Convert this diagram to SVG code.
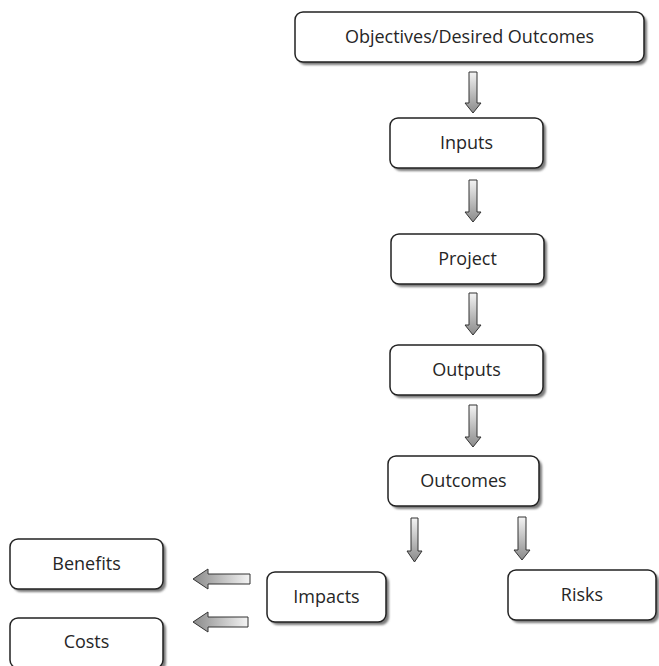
<svg xmlns="http://www.w3.org/2000/svg" width="659" height="666" viewBox="0 0 659 666">
<defs>
<filter id="blur" x="-10%" y="-10%" width="130%" height="140%"><feGaussianBlur stdDeviation="0.8"/></filter>
<linearGradient id="gv" x1="0" y1="0" x2="0" y2="1"><stop offset="0" stop-color="#f4f4f4"/><stop offset="1" stop-color="#8a8a8a"/></linearGradient>
<linearGradient id="gh" x1="1" y1="0" x2="0" y2="0"><stop offset="0" stop-color="#f4f4f4"/><stop offset="1" stop-color="#8a8a8a"/></linearGradient>
</defs>
<style>
.box{fill:#fff;stroke:#222;stroke-width:1.5}
.sh{fill:#7a7a7a;filter:url(#blur)}
.lbl{font-family:"Open Sans","Noto Sans",sans-serif;font-size:18px;fill:#262626;text-anchor:middle;dominant-baseline:central}
.av{fill:url(#gv);stroke:#333;stroke-width:1}
.ah{fill:url(#gh);stroke:#333;stroke-width:1}
</style>
<rect width="659" height="666" fill="#fff"/>
<g id="connectors">
<path class="av" d="M469,72 H477 V103 H481 L473,113 L465,103 H469 Z"/>
<path class="av" d="M469,180 H477 V212 H481 L473,222 L465,212 H469 Z"/>
<path class="av" d="M469,293 H477 V325 H481 L473,335 L465,325 H469 Z"/>
<path class="av" d="M469,405 H477 V437 H481 L473,447 L465,437 H469 Z"/>
<path class="av" d="M411,518 H418 V551 H422 L414.5,562 L407,551 H411 Z"/>
<path class="av" d="M518,517 H526 V550 H530 L522,560 L514,550 H518 Z"/>
<path class="ah" d="M250,574 V584 H208 V589 L193,579 L208,569 V574 Z"/>
<path class="ah" d="M248,617 V627 H208 V632 L193,622 L208,612 V617 Z"/>
</g>
<g id="objectives"><rect class="sh" x="298" y="15" width="349" height="50" rx="8"/><rect class="box" x="295" y="12" width="349" height="50" rx="8"/><text class="lbl" x="469.5" y="36">Objectives/Desired Outcomes</text></g>
<g id="inputs"><rect class="sh" x="393" y="121" width="153" height="50" rx="8"/><rect class="box" x="390" y="118" width="153" height="50" rx="8"/><text class="lbl" x="466.5" y="142">Inputs</text></g>
<g id="project"><rect class="sh" x="394" y="237" width="153" height="50" rx="8"/><rect class="box" x="391" y="234" width="153" height="50" rx="8"/><text class="lbl" x="467.5" y="258">Project</text></g>
<g id="outputs"><rect class="sh" x="393" y="348" width="153" height="50" rx="8"/><rect class="box" x="390" y="345" width="153" height="50" rx="8"/><text class="lbl" x="466.5" y="369">Outputs</text></g>
<g id="outcomes"><rect class="sh" x="391" y="459" width="151" height="50" rx="8"/><rect class="box" x="388" y="456" width="151" height="50" rx="8"/><text class="lbl" x="463.5" y="480">Outcomes</text></g>
<g id="impacts"><rect class="sh" x="270" y="575" width="119" height="50" rx="8"/><rect class="box" x="267" y="572" width="119" height="50" rx="8"/><text class="lbl" x="326.5" y="596">Impacts</text></g>
<g id="risks"><rect class="sh" x="511" y="573" width="148" height="50" rx="8"/><rect class="box" x="508" y="570" width="148" height="50" rx="8"/><text class="lbl" x="582" y="594">Risks</text></g>
<g id="benefits"><rect class="sh" x="13" y="542" width="153" height="50" rx="8"/><rect class="box" x="10" y="539" width="153" height="50" rx="8"/><text class="lbl" x="86.5" y="563">Benefits</text></g>
<g id="costs"><rect class="sh" x="13" y="621" width="153" height="50" rx="8"/><rect class="box" x="10" y="618" width="153" height="50" rx="8"/><text class="lbl" x="86.5" y="641">Costs</text></g>
</svg>
